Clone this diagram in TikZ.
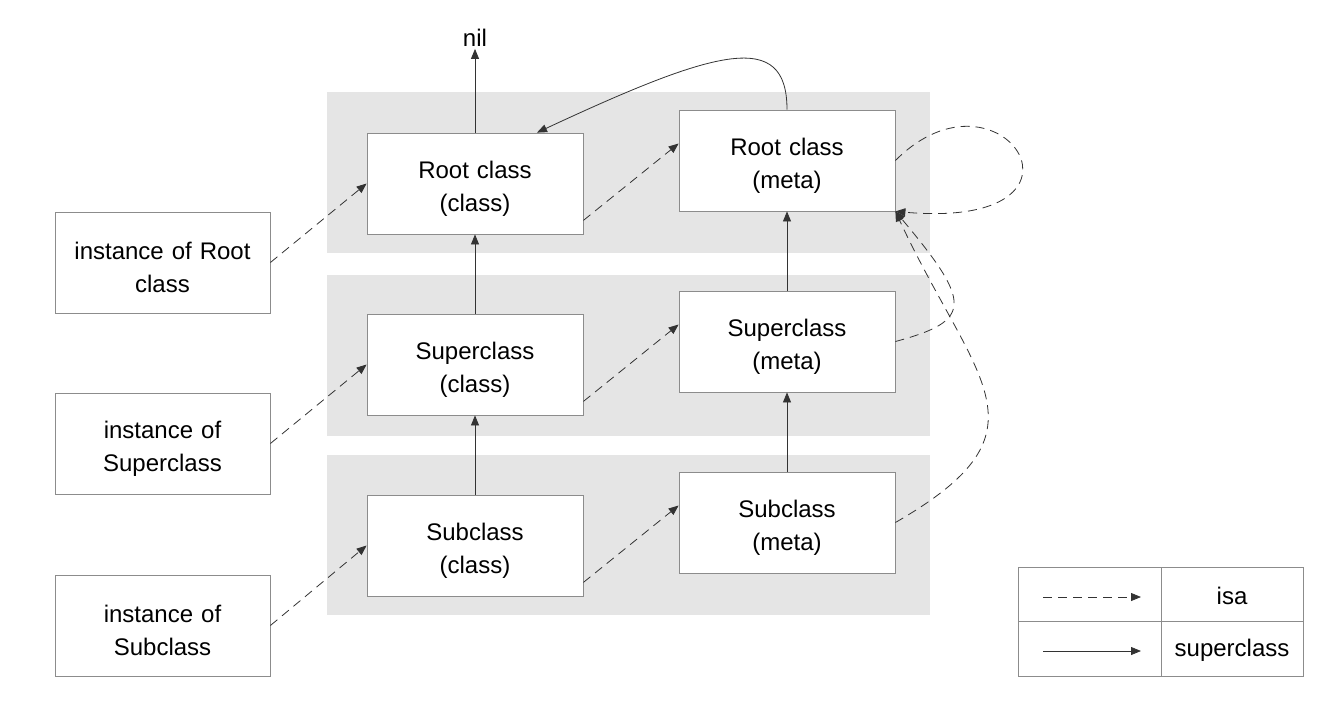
\documentclass[tikz,border=0pt]{standalone}
\usepackage{fontspec}
\setmainfont{Liberation Sans}
\usetikzlibrary{arrows.meta}

\begin{document}
\begin{tikzpicture}[x=1pt, y=1pt,
  band/.style={fill=black!10},
  box/.style={draw=black!45, fill=white, line width=0.8pt, minimum width=216pt, minimum height=101pt, text width=200pt, align=center, font=\fontsize{24}{33}\selectfont, execute at begin node={\rule{0pt}{28pt}}},
  isa/.style={draw=black!80, line width=0.8pt, dash pattern=on 9pt off 6pt, -{Triangle[length=10pt,width=8pt]}},
  super/.style={draw=black!80, line width=0.8pt, -{Triangle[length=10pt,width=8pt]}}]
\useasboundingbox (0,0) rectangle (1333,-713);

\fill[band] (327,-92) rectangle (930,-253);
\fill[band] (327,-275) rectangle (930,-436);
\fill[band] (327,-455) rectangle (930,-615);

\node[box, minimum width=215pt] (inst1) at (162.5,-262.5) {instance of Root\\class};
\node[box, minimum width=215pt] (inst2) at (162.5,-443.5) {instance of\\Superclass};
\node[box, minimum width=215pt] (inst3) at (162.5,-625.5) {instance of\\Subclass};

\node[box] (cls1) at (475,-183.5) {Root class\\(class)};
\node[box] (cls2) at (475,-364.5) {Superclass\\(class)};
\node[box] (cls3) at (475,-545.5) {Subclass\\(class)};

\node[box] (meta1) at (787,-160.5) {Root class\\(meta)};
\node[box] (meta2) at (787,-341.5) {Superclass\\(meta)};
\node[box] (meta3) at (787,-522.5) {Subclass\\(meta)};

\node[font=\fontsize{24}{28}\selectfont, inner sep=2pt] (nil) at (475,-38) {nil};

\draw[super] (cls1.north) -- (nil.south);
\draw[super] (cls2.north) -- (cls1.south);
\draw[super] (cls3.north) -- (cls2.south);
\draw[super] (meta2.north) -- (meta1.south);
\draw[super] (meta3.north) -- (meta2.south);
\draw[super] (meta1.north) .. controls +(90:80) and +(25:200) .. ([xshift=62pt]cls1.north);

\draw[isa] (inst1.east) -- (cls1.west);
\draw[isa] (inst2.east) -- (cls2.west);
\draw[isa] (inst3.east) -- (cls3.west);
\draw[isa] ([yshift=14pt]cls1.south east) -- ([yshift=17pt]meta1.west);
\draw[isa] ([yshift=14pt]cls2.south east) -- ([yshift=17pt]meta2.west);
\draw[isa] ([yshift=14pt]cls3.south east) -- ([yshift=17pt]meta3.west);
\draw[isa] (meta1.east) .. controls +(45:150) and +(-5:220) .. (meta1.south east);
\draw[isa] (meta2.east) .. controls +(15:80) and +(-50:120) .. (meta1.south east);
\draw[isa] (meta3.east) .. controls +(30:185) and +(-65:190) .. (meta1.south east);

\draw[black!45, line width=0.8pt] (1018,-567) rectangle (1303,-676);
\draw[black!45, line width=0.8pt] (1161,-567) -- (1161,-676);
\draw[black!45, line width=0.8pt] (1018,-621) -- (1303,-621);
\node[font=\fontsize{24}{28}\selectfont] (isalabel) at (1232,-596) {isa};
\node[font=\fontsize{24}{28}\selectfont] (superlabel) at (1232,-650) {superclass};
\coordinate (isaA) at (1043,-597);
\coordinate (isaB) at (1141,-597);
\coordinate (superA) at (1043,-651);
\coordinate (superB) at (1141,-651);
\draw[isa] (isaA) -- (isaB);
\draw[super] (superA) -- (superB);
\end{tikzpicture}
\end{document}
